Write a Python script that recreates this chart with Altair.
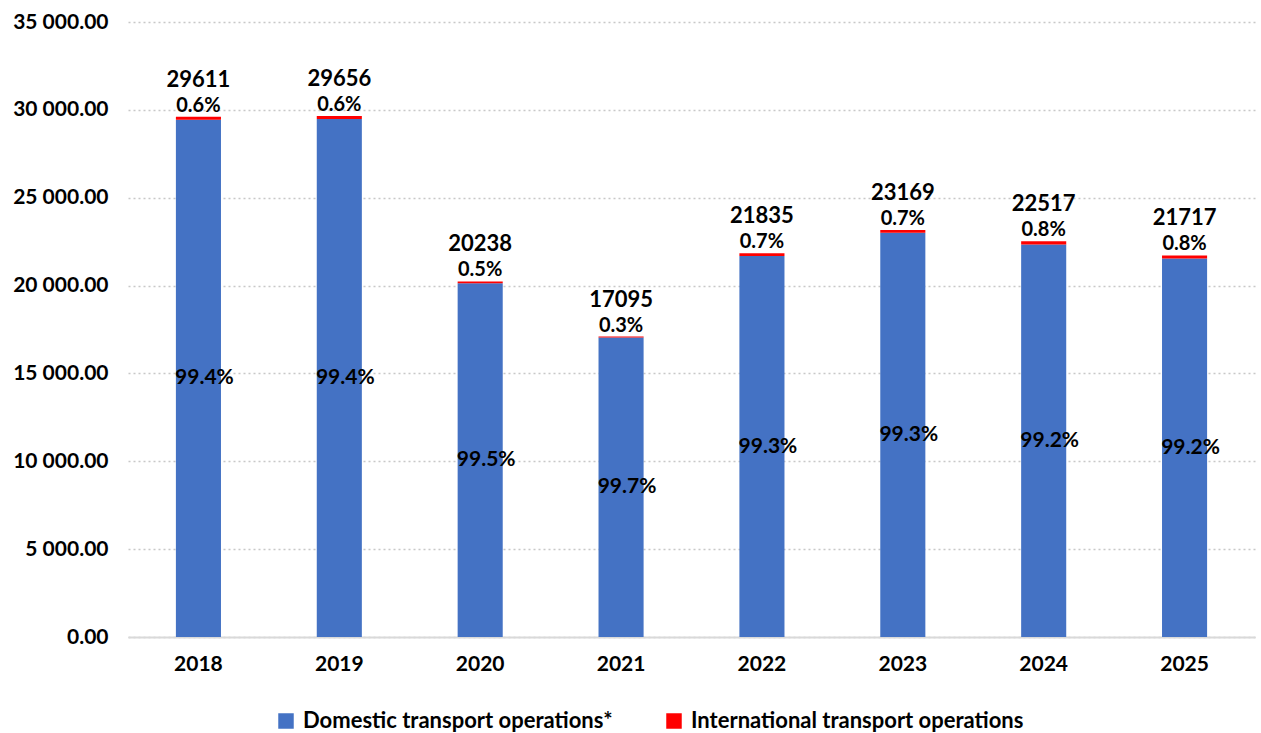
import altair as alt
import pandas as pd

years = ["2018", "2019", "2020", "2021", "2022", "2023", "2024", "2025"]
totals = [29611, 29656, 20238, 17095, 21835, 23169, 22517, 21717]
domestic = [29433, 29478, 20137, 17044, 21682, 23007, 22337, 21543]
international = [178, 178, 101, 51, 153, 162, 180, 174]
dom_pct = ["99.4%", "99.4%", "99.5%", "99.7%", "99.3%", "99.3%", "99.2%", "99.2%"]
int_pct = ["0.6%", "0.6%", "0.5%", "0.3%", "0.7%", "0.7%", "0.8%", "0.8%"]

series = ["Domestic transport operations*", "International transport operations"]
colors = ["#4472C4", "#FF0000"]

rows = []
for i, y in enumerate(years):
    rows.append({"year": y, "series": series[0], "value": domestic[i], "order": 0})
    rows.append({"year": y, "series": series[1], "value": international[i], "order": 1})
long_df = pd.DataFrame(rows)

lab_df = pd.DataFrame({
    "year": years, "total": totals, "dom": domestic, "half": [d / 2 for d in domestic],
    "dom_pct": dom_pct, "int_pct": int_pct,
})

FONT = "Lato"

x = alt.X("year:N", title=None,
          scale=alt.Scale(paddingInner=0.68, paddingOuter=0.34),
          axis=alt.Axis(labelAngle=0, labelFontSize=21, labelFontWeight="bold", labelFont=FONT,
                        labelColor="#000000", ticks=False, domainColor="#D9D9D9", domainWidth=2,
                        labelPadding=16, grid=False))

bars = alt.Chart(long_df).mark_bar().encode(
    x=x,
    y=alt.Y("value:Q", stack="zero", title=None,
            scale=alt.Scale(domain=[0, 35000], nice=False),
            axis=alt.Axis(values=[0, 5000, 10000, 15000, 20000, 25000, 30000, 35000],
                          labelExpr="replace(format(datum.value, ',.2f'), ',', ' ')",
                          labelFontSize=21, labelFontWeight="bold", labelFont=FONT,
                          labelColor="#000000", ticks=False, domain=False, labelPadding=20,
                          gridColor="#C8C8C8", gridDash=[2, 3], gridWidth=1.5)),
    color=alt.Color("series:N", title=None,
                    scale=alt.Scale(domain=series, range=colors),
                    legend=alt.Legend(orient="none", legendX=147, legendY=688, direction="horizontal",
                                      symbolType="square", symbolSize=240, symbolStrokeWidth=0,
                                      labelFontSize=22, labelFontWeight="bold", labelFont=FONT,
                                      labelColor="#000000", columnPadding=50, labelLimit=500,
                                      symbolOpacity=1, labelOffset=6)),
    order=alt.Order("order:Q", sort="ascending"),
)

total_text = alt.Chart(lab_df).mark_text(
    baseline="alphabetic", dy=-30, fontSize=22, fontWeight="bold", font=FONT, color="#000000"
).encode(x="year:N", y="total:Q", text="total:Q")

int_text = alt.Chart(lab_df).mark_text(
    baseline="alphabetic", dy=-5, fontSize=20, fontWeight="bold", font=FONT, color="#000000"
).encode(x="year:N", y="total:Q", text="int_pct:N")

dom_text = alt.Chart(lab_df).mark_text(
    baseline="middle", dx=6, fontSize=21, fontWeight="bold", font=FONT, color="#000000"
).encode(x="year:N", y="half:Q", text="dom_pct:N")

chart = alt.layer(bars, total_text, int_text, dom_text).properties(
    width=1127, height=615,
    background="white",
    autosize=alt.AutoSizeParams(type="none"),
    padding={"left": 128, "top": 22, "right": 6, "bottom": 96},
).configure_view(stroke=None)

chart.save("out.html", embed_options={"renderer": "svg", "actions": False})
